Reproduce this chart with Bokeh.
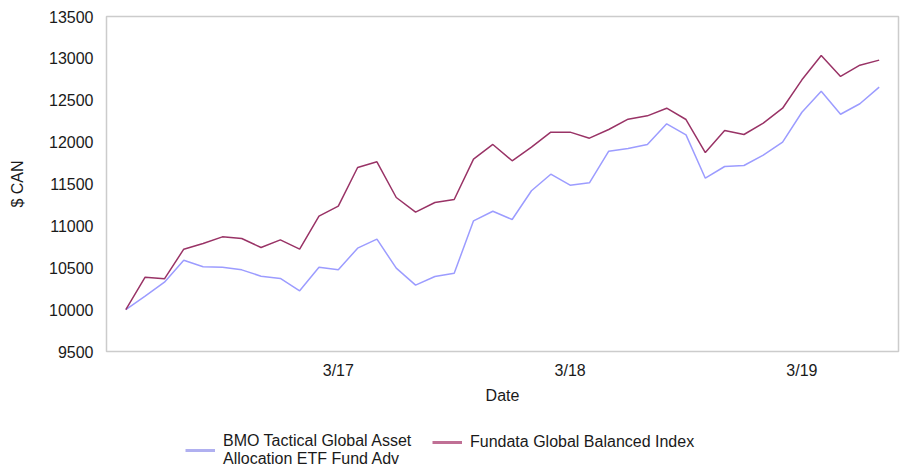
from bokeh.plotting import figure
from bokeh.models import Range1d, FixedTicker, Legend, LegendItem
from bokeh.layouts import column
from bokeh.embed import file_html
from bokeh.resources import INLINE

# Monthly values, April 2016 .. July 2019 (index 0..39)
fund_values = [10000, 10160, 10328, 10590, 10511, 10507, 10475, 10399, 10372, 10225,
               10507, 10475, 10734, 10841, 10495, 10292, 10396, 10435, 11060, 11175,
               11076, 11419, 11617, 11486, 11514, 11892, 11924, 11972, 12219, 12087,
               11569, 11709, 11721, 11844, 11999, 12357, 12608, 12333, 12458, 12656]
index_values = [10000, 10387, 10368, 10722, 10790, 10869, 10849, 10742, 10833, 10722,
                11116, 11235, 11697, 11765, 11339, 11164, 11279, 11315, 11797, 11972,
                11777, 11940, 12119, 12119, 12047, 12151, 12274, 12314, 12405, 12270,
                11876, 12139, 12091, 12226, 12405, 12744, 13034, 12784, 12919, 12979]
months = list(range(len(fund_values)))
tick_positions = [11, 23, 35]
tick_labels = ["3/17", "3/18", "3/19"]
y_ticks = [9500, 10000, 10500, 11000, 11500, 12000, 12500, 13000, 13500]

fund_name = "BMO Tactical Global Asset\nAllocation ETF Fund Adv"
index_name = "Fundata Global Balanced Index"

FONT = "Liberation Sans"
FS = "16px"
TXT = "#1a1a1a"

p = figure(width=900, height=406, output_backend="svg", toolbar_location=None,
           x_range=Range1d(-1, 40), y_range=Range1d(9500, 13500),
           min_border_left=106, min_border_right=2, min_border_top=16, min_border_bottom=55)

p.outline_line_color = "#cccccc"
p.outline_line_width = 1.5
p.xgrid.visible = False
p.ygrid.visible = False

r_fund = p.line(months, fund_values, line_color="#9c9cff", line_width=1.5)
r_index = p.line(months, index_values, line_color="#993366", line_width=1.5)

for ax in (p.xaxis[0], p.yaxis[0]):
    ax.axis_line_color = None
    ax.major_tick_line_color = None
    ax.minor_tick_line_color = None
    ax.major_tick_out = 0
    ax.major_tick_in = 0
    ax.minor_tick_out = 0
    ax.major_label_text_font = FONT
    ax.major_label_text_font_size = FS
    ax.major_label_text_color = TXT
    ax.axis_label_text_font = FONT
    ax.axis_label_text_font_size = FS
    ax.axis_label_text_font_style = "normal"
    ax.axis_label_text_color = TXT

p.xaxis.ticker = FixedTicker(ticks=tick_positions)
p.xaxis.major_label_overrides = {t: l for t, l in zip(tick_positions, tick_labels)}
p.xaxis.axis_label = "Date"
p.xaxis.major_label_standoff = 10
p.xaxis.axis_label_standoff = 5

p.yaxis.ticker = FixedTicker(ticks=y_ticks)
p.yaxis.axis_label = "$ CAN"
p.yaxis.major_label_standoff = 13
p.yaxis.axis_label_standoff = 20

# legend strip below the chart (its frame is aligned with the chart frame)
lf = figure(width=900, height=60, output_backend="svg", toolbar_location=None,
            x_range=Range1d(0, 1), y_range=Range1d(0, 1), x_axis_type=None, y_axis_type=None,
            min_border=0)
lf.outline_line_color = None
lf.xgrid.visible = False
lf.ygrid.visible = False
d_fund = lf.line([float("nan")], [float("nan")], line_color="#b0b0f0", line_width=3)
d_index = lf.line([float("nan")], [float("nan")], line_color="#c07095", line_width=3)

def make_legend(label, renderer, loc):
    lg = Legend(items=[LegendItem(label=label, renderers=[renderer])], location=loc,
                orientation="horizontal", border_line_color=None, background_fill_alpha=0,
                padding=0, margin=0, spacing=0, label_standoff=8, glyph_width=30,
                glyph_height=16, label_text_font=FONT, label_text_font_size=FS,
                label_text_color=TXT, label_height=16, label_text_line_height=1.1)
    lf.add_layout(lg)

make_legend(fund_name, d_fund, (79, -2))
make_legend(index_name, d_index, (326, 15))

open("out.html", "w").write(file_html(column(p, lf), INLINE))
